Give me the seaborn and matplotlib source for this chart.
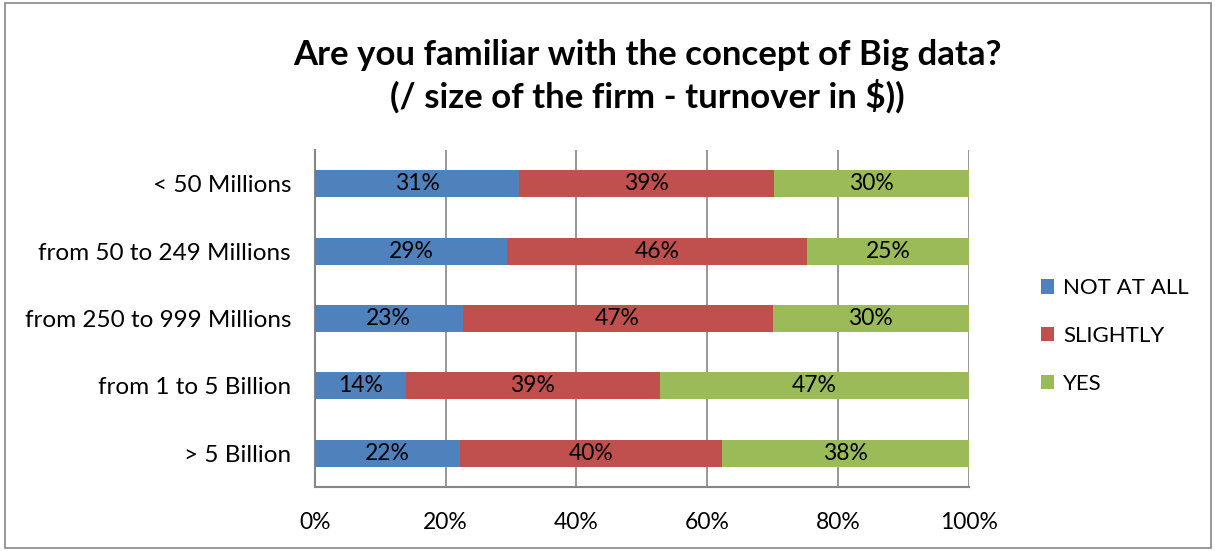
import pandas as pd
import matplotlib.pyplot as plt
import seaborn as sns
from matplotlib.patches import Rectangle, Patch
from matplotlib.ticker import FixedLocator, PercentFormatter

# Data (shares in %)
categories = ["< 50 Millions", "from 50 to 249 Millions", "from 250 to 999 Millions",
              "from 1 to 5 Billion", "> 5 Billion"]
not_at_all = [31.3, 29.4, 22.6, 13.9, 22.2]
slightly = [38.9, 45.8, 47.4, 38.9, 40.0]
yes = [29.8, 24.8, 30.0, 47.2, 37.8]

series_names = ["NOT AT ALL", "SLIGHTLY", "YES"]
colors = ["#4F81BD", "#C0504D", "#9BBB59"]

df = pd.DataFrame({"category": categories, "NOT AT ALL": not_at_all,
                   "SLIGHTLY": slightly, "YES": yes})
df["cum1"] = df["NOT AT ALL"]
df["cum2"] = df["cum1"] + df["SLIGHTLY"]
df["cum3"] = df["cum2"] + df["YES"]

sns.set_style("white")
plt.rcParams["font.family"] = ["Lato", "DejaVu Sans"]
plt.rcParams["text.color"] = "black"
plt.rcParams["xtick.labelcolor"] = "black"
plt.rcParams["ytick.labelcolor"] = "black"

fig = plt.figure(figsize=(12.15, 5.51), dpi=100)
ax = fig.add_axes([0.259, 0.116, 0.5385, 0.612])

# stacked by overlaying cumulative totals, largest first
for col, c in zip(["cum3", "cum2", "cum1"], colors[::-1]):
    sns.barplot(data=df, x=col, y="category", order=categories, color=c,
                width=0.4, saturation=1, ax=ax, zorder=3, edgecolor="none")

# segment labels
for i, row in df.iterrows():
    starts = [0, row["cum1"], row["cum2"]]
    for s, name in zip(starts, series_names):
        v = row[name]
        ax.text(s + v / 2, i, f"{round(v):.0f}%", ha="center", va="center",
                fontsize=16.5, color="black", zorder=4)

ax.set_xlim(0, 100)
ax.set_ylim(len(categories) - 0.5, -0.5)
ax.xaxis.set_major_locator(FixedLocator([0, 20, 40, 60, 80, 100]))
ax.xaxis.set_major_formatter(PercentFormatter(decimals=0))
ax.grid(axis="x", color="#868686", linewidth=1.2, zorder=0)
ax.set_xlabel("")
ax.set_ylabel("")

for side in ["top", "right"]:
    ax.spines[side].set_visible(False)
for side in ["left", "bottom"]:
    ax.spines[side].set_color("#868686")
    ax.spines[side].set_linewidth(1.5)

ax.tick_params(axis="x", direction="out", length=6, width=1.2, color="#868686",
               labelsize=16.5, pad=12)
ax.tick_params(axis="y", which="major", length=0, labelsize=17.5, pad=17)
ax.yaxis.set_minor_locator(FixedLocator([-0.5, 0.5, 1.5, 2.5, 3.5, 4.5]))
ax.tick_params(axis="y", which="minor", direction="out", length=6, width=1.2,
               color="#868686")

fig.suptitle("Are you familiar with the concept of Big data?\n(/ size of the firm - turnover in $))",
             x=0.533, y=0.93, fontsize=25, fontweight="bold", linespacing=1.3)

handles = [Patch(facecolor=c, edgecolor="none") for c in colors]
fig.legend(handles, series_names, loc="center left", bbox_to_anchor=(0.84, 0.39),
           frameon=False, fontsize=16, handlelength=0.6, handleheight=0.6,
           handletextpad=0.4, labelspacing=1.25)

fig.patches.append(Rectangle((0.004, 0.005), 0.993, 0.99, transform=fig.transFigure,
                             fill=False, edgecolor="#868686", linewidth=1.2))

fig.savefig("out.png", dpi=100)
